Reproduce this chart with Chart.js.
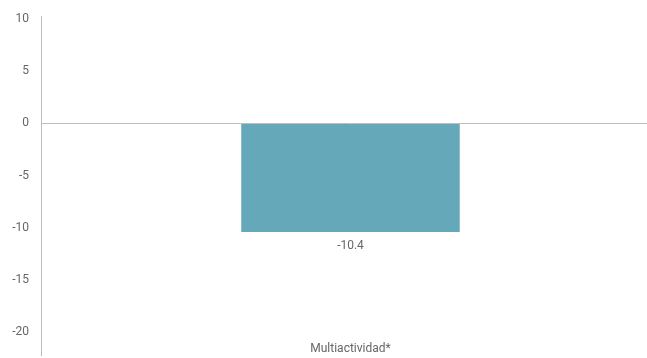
<!DOCTYPE html>
<html>
<head>
<meta charset="utf-8">
<script src="https://cdn.jsdelivr.net/npm/chart.js@4/dist/chart.umd.min.js"></script>
<style>
html,body{margin:0;padding:0;background:#fff;overflow:hidden;width:647px;height:358px;}
#wrap{position:absolute;left:0;top:0;width:660px;height:358px;}
</style>
</head>
<body>
<div id="wrap"><canvas id="c" width="660" height="358"></canvas></div>
<script>
const categories = ["Multiactividad*"];
const values = [-10.4];
const yTicks = [-20, -15, -10, -5, 0, 5, 10];

const axisExt = {
  id: 'axisExt',
  afterDraw(chart) {
    const {ctx, chartArea} = chart;
    ctx.save();
    ctx.strokeStyle = '#bdbdbd';
    ctx.lineWidth = 1;
    ctx.beginPath();
    ctx.moveTo(chartArea.left + 0.5, chartArea.top - 3);
    ctx.lineTo(chartArea.left + 0.5, 356);
    ctx.stroke();
    ctx.restore();
  }
};

const dataLabels = {
  id: 'dataLabels',
  afterDatasetsDraw(chart) {
    const {ctx} = chart;
    const meta = chart.getDatasetMeta(0);
    ctx.save();
    ctx.font = '12px Roboto';
    ctx.fillStyle = '#666';
    ctx.textAlign = 'center';
    ctx.textBaseline = 'middle';
    meta.data.forEach((bar, i) => {
      ctx.fillText(String(values[i]), bar.x, bar.y + 14);
    });
    ctx.restore();
  }
};

new Chart(document.getElementById('c'), {
  type: 'bar',
  data: {
    labels: categories,
    datasets: [{
      data: values,
      backgroundColor: '#65a8ba',
      borderWidth: 0,
      categoryPercentage: 0.353,
      barPercentage: 1
    }]
  },
  options: {
    responsive: false,
    animation: false,
    devicePixelRatio: 1,
    layout: {padding: {top: 18, right: 0, bottom: 0, left: 0}},
    plugins: {legend: {display: false}, tooltip: {enabled: false}},
    scales: {
      x: {
        grid: {display: false, drawTicks: false},
        border: {display: false},
        afterFit(axis) { axis.height = 26; },
        ticks: {padding: 10, color: '#666', font: {family: 'Roboto', size: 12}}
      },
      y: {
        min: -20,
        max: 10,
        afterBuildTicks(axis) { axis.ticks = yTicks.map(v => ({value: v})); },
        afterFit(axis) { axis.width = 41; },
        grid: {
          drawTicks: false,
          color: ctx => (ctx.tick && ctx.tick.value === 0) ? '#bdbdbd' : 'rgba(0,0,0,0)'
        },
        border: {display: false},
        ticks: {padding: 12, color: '#666', font: {family: 'Roboto', size: 12}}
      }
    }
  },
  plugins: [axisExt, dataLabels]
});
</script>
</body>
</html>
